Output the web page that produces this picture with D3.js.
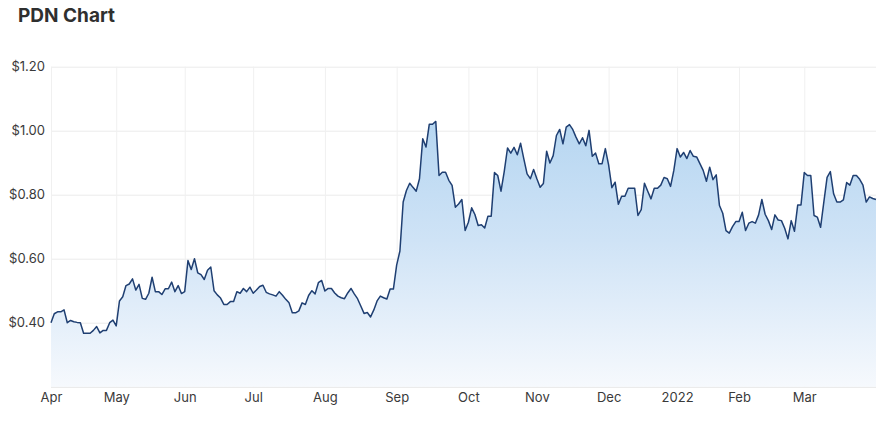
<!DOCTYPE html>
<html>
<head>
<meta charset="utf-8">
<script src="https://cdn.jsdelivr.net/npm/d3@7/dist/d3.min.js"></script>
<style>
  html, body { margin: 0; padding: 0; background: #ffffff; }
  svg { display: block; font-family: Inter, Roboto, "Noto Sans", sans-serif; }
</style>
</head>
<body>
<svg id="chart" width="894" height="427"></svg>
<script>
// ---- Data (PDN daily close, ASX trading days 31 Mar 2021 – 31 Mar 2022) ----
const startDate = "2021-03-31";
const endDate = "2022-03-31";
const holidays = ["2021-04-02","2021-04-05","2021-04-26","2021-06-14","2021-12-27","2021-12-28","2022-01-03","2022-01-26"];

const pricesAprJun = [0.40,0.428,0.434,0.434,0.44,0.40,0.407,0.403,0.401,0.40,0.367,0.367,0.367,0.376,0.388,0.368,0.376,0.376,0.40,0.408,
  0.39,0.468,0.481,0.516,0.521,0.537,0.502,0.52,0.476,0.473,0.492,0.542,0.497,0.497,0.488,0.506,0.506,0.527,0.497,0.516,0.491];
const pricesJunAug = [0.497,0.594,0.566,0.60,0.556,0.55,0.535,0.564,0.574,0.50,0.487,0.477,0.457,0.457,0.466,0.466,0.497,0.492,0.507,0.497,0.511,
  0.492,0.502,0.513,0.517,0.495,0.49,0.487,0.483,0.497,0.486,0.473,0.462,0.431,0.431,0.437,0.462,0.457,0.485,0.50,0.49,0.525,0.532];
const pricesAugOct = [0.499,0.507,0.507,0.493,0.483,0.478,0.475,0.493,0.507,0.49,0.475,0.452,0.429,0.432,0.418,0.44,0.468,0.483,0.478,0.474,0.505,0.505,
  0.58,0.624,0.777,0.813,0.836,0.823,0.811,0.85,0.975,0.949,1.02,1.02,1.029,0.86,0.87,0.87,0.845,0.829,0.761,0.771,0.785,0.688];
const pricesOctDec = [0.714,0.759,0.738,0.704,0.706,0.696,0.733,0.733,0.869,0.86,0.811,0.873,0.946,0.93,0.948,0.925,0.961,0.912,0.865,0.85,0.879,0.85,
  0.823,0.835,0.936,0.899,0.922,0.985,1.004,0.959,1.011,1.019,1.004,0.98,0.959,0.978,0.953,1.001,0.92,0.93,0.897,0.897,0.944];
const pricesDecFeb = [0.893,0.822,0.839,0.77,0.795,0.795,0.82,0.82,0.82,0.735,0.753,0.836,0.811,0.787,0.82,0.82,0.83,0.854,0.85,0.826,0.876,
  0.944,0.918,0.932,0.913,0.938,0.92,0.918,0.897,0.876,0.842,0.886,0.847,0.862,0.766,0.742,0.688,0.68,0.70,0.716];
const pricesFebMar = [0.716,0.745,0.688,0.711,0.716,0.711,0.737,0.785,0.739,0.719,0.691,0.737,0.721,0.719,0.695,0.662,0.719,0.686,0.768,0.768,
  0.869,0.86,0.86,0.735,0.73,0.698,0.777,0.854,0.872,0.803,0.777,0.777,0.784,0.838,0.83,0.86,0.86,0.848,0.83,0.777,0.793,0.788,0.785];

const monthLabels = ["Apr","May","Jun","Jul","Aug","Sep","Oct","Nov","Dec","2022","Feb","Mar"];
const yTicks = [0.40, 0.60, 0.80, 1.00, 1.20];
const titleText = "PDN Chart";

// ---- Build trading-day calendar ----
const parse = d3.utcParse("%Y-%m-%d");
const fmt = d3.utcFormat("%Y-%m-%d");
const holidaySet = new Set(holidays);
const tradingDays = d3.utcDays(parse(startDate), d3.utcDay.offset(parse(endDate), 1))
  .filter(d => d.getUTCDay() !== 0 && d.getUTCDay() !== 6 && !holidaySet.has(fmt(d)));
const prices = [].concat(pricesAprJun, pricesJunAug, pricesAugOct, pricesOctDec, pricesDecFeb, pricesFebMar);
const nPts = Math.min(tradingDays.length, prices.length);
const data = d3.range(nPts).map(i => ({ i, date: tradingDays[i], value: prices[i] }));

// month ticks at first trading day of each month (first one at axis start)
const tickIdx = [0];
for (let i = 1; i < nPts; i++) {
  if (tradingDays[i].getUTCMonth() !== tradingDays[i - 1].getUTCMonth() && i > 2) tickIdx.push(i);
}

// ---- Layout ----
const svg = d3.select("#chart");
const plotLeft = 51, plotRight = 876, plotTop = 66.7, plotBottom = 386.7;

const x = d3.scaleLinear().domain([0, nPts - 1]).range([plotLeft, plotRight]);
const y = d3.scaleLinear().domain([0.2, 1.2]).range([plotBottom, plotTop]);

// title
svg.append("text")
  .attr("x", 18).attr("y", 21.7)
  .attr("font-size", 19).attr("font-weight", 700)
  .attr("fill", "#2f2f2f")
  .text(titleText);

// gradient
const defs = svg.append("defs");
const grad = defs.append("linearGradient")
  .attr("id", "areaGrad").attr("gradientUnits", "userSpaceOnUse")
  .attr("x1", 0).attr("x2", 0).attr("y1", y(1.03)).attr("y2", plotBottom);
grad.append("stop").attr("offset", "0%").attr("stop-color", "#b6d6f1");
grad.append("stop").attr("offset", "45%").attr("stop-color", "#cfe3f6");
grad.append("stop").attr("offset", "100%").attr("stop-color", "#f6f9fd");

// y axis with horizontal gridlines
const yAxis = svg.append("g")
  .attr("transform", `translate(${plotLeft},0)`)
  .call(d3.axisLeft(y).tickValues(yTicks).tickFormat(d => "$" + d.toFixed(2))
    .tickSize(-(plotRight - plotLeft)).tickPadding(6));
yAxis.select(".domain").remove();
yAxis.selectAll(".tick line").attr("stroke", "#ebebeb").attr("stroke-width", 1);
yAxis.selectAll(".tick text").attr("fill", "#3a3a3a").attr("font-size", 13)
  .attr("font-family", "Inter, Roboto, sans-serif");

// x axis with vertical gridlines
const xAxis = svg.append("g")
  .attr("transform", `translate(0,${plotBottom})`)
  .call(d3.axisBottom(x).tickValues(tickIdx).tickFormat((d, k) => monthLabels[k] || "")
    .tickSize(-(plotBottom - plotTop)).tickPadding(6));
xAxis.select(".domain").attr("stroke", "#e3e3e3").attr("d", `M${plotLeft},0.5H${plotRight}`);
xAxis.selectAll(".tick line").attr("stroke", "#f0f0f0").attr("stroke-width", 1);
xAxis.selectAll(".tick text").attr("fill", "#3a3a3a").attr("font-size", 13)
  .attr("font-family", "Inter, Roboto, sans-serif");

// area + line
const area = d3.area().x(d => x(d.i)).y0(plotBottom).y1(d => y(d.value));
const line = d3.line().x(d => x(d.i)).y(d => y(d.value));

svg.append("path").datum(data)
  .attr("d", area).attr("fill", "url(#areaGrad)");

svg.append("path").datum(data)
  .attr("d", line).attr("fill", "none")
  .attr("stroke", "#1f3f72").attr("stroke-width", 1.5)
  .attr("stroke-linejoin", "round");
</script>
</body>
</html>
